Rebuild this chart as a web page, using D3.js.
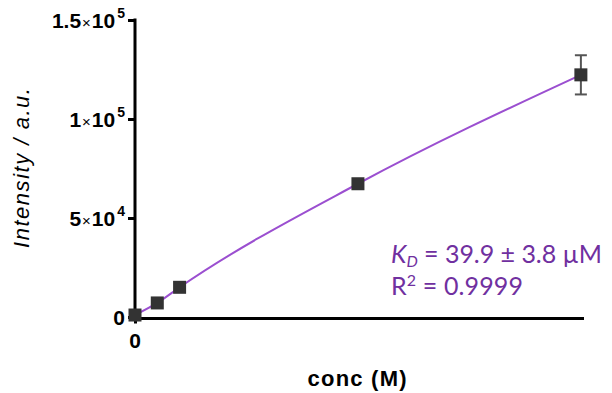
<!DOCTYPE html>
<html>
<head>
<meta charset="utf-8">
<script src="https://cdn.jsdelivr.net/npm/d3@7"></script>
<style>
  body { margin: 0; background: #fff; }
  svg { display: block; }
</style>
</head>
<body>
<div id="chart"></div>
<script>
// data (conc in M, intensity in a.u.)
const conc = [0, 5e-6, 10e-6, 50e-6, 100e-6];
const intensity = [1000, 7100, 15000, 67300, 122300];
const errors = [0, 0, 0, 0, 9900];

// tick labels
const yTicks = [0, 5e4, 1e5, 1.5e5];
const yMant = ["0", "5", "1", "1.5"];
const yExp = [null, "4", "5", "5"];
const xTicks = [0];

const W = 612, H = 393;

const svg = d3.select("#chart")
  .append("svg")
    .attr("width", W)
    .attr("height", H);

const x = d3.scaleLinear()
  .domain([0, 100.7e-6])
  .range([135, 584]);

const y = d3.scaleLinear()
  .domain([0, 1.5e5])
  .range([317, 20]);

// Y axis
const yAxis = svg.append("g")
  .attr("transform", "translate(135,0)")
  .call(d3.axisLeft(y).tickValues(yTicks).tickSize(7).tickSizeOuter(0).tickFormat(""));
yAxis.select(".domain").attr("stroke", "#000").attr("stroke-width", 3)
  .attr("d", `M0,${y(1.5e5) - 1.5}V${y(0) + 3.5}`);
yAxis.selectAll(".tick line").attr("stroke", "#000").attr("stroke-width", 3);

// Y tick labels with superscripts
const ylab = svg.append("g")
  .attr("font-family", "Liberation Sans, Arial, sans-serif")
  .attr("font-weight", "bold")
  .attr("fill", "#000");
yTicks.forEach(function(v, i) {
  const t = ylab.append("text")
    .attr("x", 125)
    .attr("y", y(v) + 7.5)
    .attr("text-anchor", "end")
    .attr("font-size", 21);
  t.append("tspan").text(yMant[i]);
  if (yExp[i]) {
    t.append("tspan").attr("font-size", 15).attr("font-weight", "normal").attr("dx", 1).text("×");
    t.append("tspan").attr("dx", 1).text("10");
    t.append("tspan").attr("font-size", 14).attr("dy", -10).attr("dx", 2).text(yExp[i]);
  }
});

// X axis
const xAxis = svg.append("g")
  .attr("transform", "translate(0,318.5)")
  .call(d3.axisBottom(x).tickValues(xTicks).tickSize(5).tickSizeOuter(0).tickFormat(""));
xAxis.select(".domain").attr("stroke", "#000").attr("stroke-width", 3)
  .attr("d", `M${x(0) - 1.5},0H${x(100.7e-6)}`);
xAxis.selectAll(".tick line").attr("stroke", "#000").attr("stroke-width", 3);

svg.append("g")
  .selectAll("text")
  .data(xTicks)
  .join("text")
    .attr("x", function(d) { return x(d); })
    .attr("y", 348)
    .attr("text-anchor", "middle")
    .attr("font-family", "Liberation Sans, Arial, sans-serif")
    .attr("font-weight", "bold")
    .attr("font-size", 21)
    .text(function(d) { return d; });

// axis titles
svg.append("text")
  .attr("x", 357)
  .attr("y", 386)
  .attr("text-anchor", "middle")
  .attr("font-family", "Liberation Sans, Arial, sans-serif")
  .attr("font-weight", "bold")
  .attr("font-size", 22)
  .attr("textLength", 99)
  .text("conc (M)");

svg.append("text")
  .attr("transform", "translate(29,168) rotate(-90)")
  .attr("text-anchor", "middle")
  .attr("font-family", "Liberation Sans, Arial, sans-serif")
  .attr("font-style", "italic")
  .attr("font-size", 22)
  .attr("textLength", 160)
  .text("Intensity / a.u.");

const data = conc.map(function(c, i) { return { c: c, v: intensity[i], e: errors[i] }; });

// fit line
svg.append("path")
  .datum(data)
  .attr("fill", "none")
  .attr("stroke", "#9b4fd0")
  .attr("stroke-width", 2)
  .attr("d", d3.line()
    .x(function(d) { return x(d.c); })
    .y(function(d) { return y(d.v); })
    .curve(d3.curveMonotoneX));

// error bars
const eb = svg.append("g")
  .attr("stroke", "#555")
  .attr("stroke-width", 2);
data.filter(function(d) { return d.e > 0; }).forEach(function(d) {
  eb.append("line")
    .attr("x1", x(d.c)).attr("x2", x(d.c))
    .attr("y1", y(d.v + d.e)).attr("y2", y(d.v - d.e));
  eb.append("line")
    .attr("x1", x(d.c) - 6).attr("x2", x(d.c) + 6)
    .attr("y1", y(d.v + d.e)).attr("y2", y(d.v + d.e));
  eb.append("line")
    .attr("x1", x(d.c) - 6).attr("x2", x(d.c) + 6)
    .attr("y1", y(d.v - d.e)).attr("y2", y(d.v - d.e));
});

// markers
const ms = 13;
svg.append("g")
  .selectAll("rect")
  .data(data)
  .join("rect")
    .attr("x", function(d) { return x(d.c) - ms / 2; })
    .attr("y", function(d) { return y(d.v) - ms / 2; })
    .attr("width", ms)
    .attr("height", ms)
    .attr("fill", "#333");

// annotation
const ann = svg.append("g")
  .attr("font-family", "Lato, Open Sans, sans-serif")
  .attr("font-size", 25)
  .attr("fill", "#7030a0");
const l1 = ann.append("text").attr("x", 391).attr("y", 263).attr("textLength", 211);
l1.append("tspan").attr("font-style", "italic").text("K");
l1.append("tspan").attr("font-style", "italic").attr("font-size", 16).attr("dy", 4).text("D");
l1.append("tspan").attr("dy", -4).text(" = 39.9 ± 3.8 µM");
const l2 = ann.append("text").attr("x", 391).attr("y", 295).attr("textLength", 132);
l2.append("tspan").text("R");
l2.append("tspan").attr("font-size", 16).attr("dy", -9).text("2");
l2.append("tspan").attr("dy", 9).text(" = 0.9999");
</script>
</body>
</html>
